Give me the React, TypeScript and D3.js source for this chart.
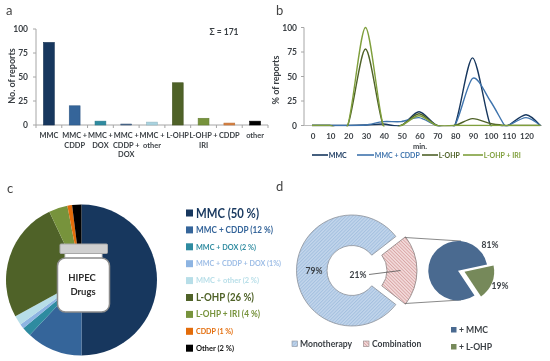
import React from "react";
import * as d3 from "d3";

const FONT = "Lato, 'Open Sans', sans-serif";
const INK = "#3a3f44";

// Panel a
const barCategories = [["MMC"], ["MMC +", "CDDP"], ["MMC +", "DOX"], ["MMC +", "CDDP +", "DOX"], ["MMC +", "other"], ["L-OHP"], ["L-OHP +", "IRI"], ["CDDP"], ["other"]];
const barValues = [86, 20, 4, 1, 3, 44, 7, 2, 4];
const barColors = ["#17375e", "#35659a", "#2e8ba0", "#4a6a90", "#a9d3e0", "#4f6228", "#77933c", "#d9813f", "#000000"];
const barTicks = [0, 25, 50, 75, 100];

// Panel b
const minutes = [0, 10, 20, 30, 40, 50, 60, 70, 80, 90, 100, 108, 110, 120, 128];
const minuteTicks = [0, 10, 20, 30, 40, 50, 60, 70, 80, 90, 100, 110, 120];
const lineMMC = [0, 0, 0, 0.5, 1.5, 0, 14, 0, 0, 69, 0.5, 0, 0, 11, 0];
const lineCDDP = [0, 0, 0, 0.5, 4, 4, 8, 0, 0, 48, 25, 0, 0, 8, 0];
const lineLOHP = [0, 0, 0, 78, 0, 0, 12, 0, 0, 7, 2, 0, 0, 0, 0];
const lineIRI = [0, 0, 0, 100, 0, 0, 10, 0, 0, 0, 0, 0, 0, 0, 0];
const lineNames = ["MMC", "MMC + CDDP", "L-OHP", "L-OHP + IRI"];
const lineColors = ["#17375e", "#3f74ad", "#4f6228", "#7f9f3c"];
const lineLegendX = [37, 82, 147, 188];
const lineLegendW = [16, 17, 16, 20];
const lineLegendTextW = [18, 45, 21, 37];

// Panel c
const pieLabels = ["MMC (50 %)", "MMC + CDDP (12 %)", "MMC + DOX (2 %)", "MMC + CDDP + DOX (1%)", "MMC + other (2 %)", "L-OHP (26 %)", "L-OHP + IRI (4 %)", "CDDP (1 %)", "Other (2 %)"];
const pieValues = [50, 12, 2, 1, 2, 26, 4, 1, 2];
const pieColors = ["#17375e", "#35659a", "#2e8ba0", "#8db4e2", "#b7dee8", "#4f6228", "#77933c", "#e36c0a", "#000000"];
const pieFontSizes = [12.5, 8.5, 7.5, 7.5, 7.5, 11, 8.5, 7.5, 7.5];
const pieLabelWidths = [63, 77, 60, 85, 63, 58, 64, 37, 38];
const pieTextColors = ["#17375e", "#35659a", "#2e8ba0", "#9dbde6", "#b7dee8", "#4f6228", "#77933c", "#e36c0a", "#111111"];

// Panel d
const donutValues = [79, 21];
const subValues = [81, 19];

const rad = (deg: number) => (deg * Math.PI) / 180;

export default function App() {
  // a
  const ax = d3.scaleBand<number>().domain(d3.range(barValues.length)).range([36, 268]).paddingInner(0.58).paddingOuter(0.29);
  const ay = d3.scaleLinear().domain([0, 100]).range([125, 29]);
  const step = ax.step();

  // b
  const bx = d3.scaleLinear().domain([0, 120]).range([312, 526]);
  const by = d3.scaleLinear().domain([0, 100]).range([125.5, 27.5]);
  const line = d3.line<number>().x((_, i) => bx(minutes[i])).y(d => by(d)).curve(d3.curveCardinal.tension(0.15));
  const series = [lineMMC, lineCDDP, lineLOHP, lineIRI];

  // c
  const pie = d3.pie<number>().sort(null)(pieValues);
  const arcC = d3.arc<d3.PieArcDatum<number>>().innerRadius(0).outerRadius(75.5);

  // d
  const half = (donutValues[1] / 100) * 180;
  const comboArc = d3.arc()({ innerRadius: 25, outerRadius: 55, startAngle: rad(90 - half), endAngle: rad(90 + half) }) as string;
  const monoArc = d3.arc()({ innerRadius: 25, outerRadius: 55.5, startAngle: rad(90 + half), endAngle: rad(450 - half) }) as string;
  const subSpan = (subValues[1] / 100) * 360;
  const subArc = d3.arc()({ innerRadius: 0, outerRadius: 29.7, startAngle: rad(112 + subSpan / 2), endAngle: rad(472 - subSpan / 2) }) as string;
  const greenArc = d3.arc()({ innerRadius: 0, outerRadius: 29.7, startAngle: rad(112 - subSpan / 2), endAngle: rad(112 + subSpan / 2) }) as string;

  return (
    <svg width={550} height={361} style={{ position: "absolute", left: 0, top: 0, background: "#fff", filter: "blur(0.35px)" }} fontFamily={FONT}>
      <defs>
        <pattern id="hb" width="2.4" height="2.4" patternUnits="userSpaceOnUse" patternTransform="rotate(45)">
          <rect width="2.4" height="2.4" fill="#c3d6ec" />
          <rect width="1" height="2.4" fill="#a4c0df" />
        </pattern>
        <pattern id="hr" width="2.4" height="2.4" patternUnits="userSpaceOnUse" patternTransform="rotate(-45)">
          <rect width="2.4" height="2.4" fill="#f3dcdc" />
          <rect width="0.9" height="2.4" fill="#d9a5a5" />
        </pattern>
        <clipPath id="plotb">
          <rect x={304} y={20} width={240} height={106.2} />
        </clipPath>
      </defs>

      {/* panel letters */}
      <g fontSize={13} fill="#444">
        <text x={6} y={15}>a</text>
        <text x={276} y={15}>b</text>
        <text x={7} y={193}>c</text>
        <text x={276} y={191}>d</text>
      </g>

      {/* a */}
      <g>
        <line x1={36} x2={36} y1={29} y2={125} stroke="#a6a6a6" />
        <line x1={36} x2={268} y1={125} y2={125} stroke="#a6a6a6" />
        {barTicks.map(t => (
          <g key={t}>
            <line x1={33} x2={36} y1={ay(t)} y2={ay(t)} stroke="#a6a6a6" />
            <text x={28} y={ay(t) + 3} textAnchor="end" fontSize={8.5} fontWeight={700} fill={INK}>{t}</text>
          </g>
        ))}
        {d3.range(barValues.length + 1).map(i => (
          <line key={i} x1={36 + i * step} x2={36 + i * step} y1={125} y2={128} stroke="#a6a6a6" />
        ))}
        {barValues.map((v, i) => (
          <rect key={i} x={ax(i)} width={ax.bandwidth()} y={ay(v)} height={ay(0) - ay(v)} fill={barColors[i]} stroke={d3.color(barColors[i])!.darker(0.4).toString()} strokeWidth={0.6} />
        ))}
        {barCategories.map((lines, i) => (
          <text key={i} textAnchor="middle" fontSize={7.4} fontWeight={700} fill={INK}>
            {lines.map((l, j) => (
              <tspan key={j} x={(ax(i) as number) + ax.bandwidth() / 2} y={138 + j * 9.5}>{l}</tspan>
            ))}
          </text>
        ))}
        <text transform="translate(14.5,76) rotate(-90)" textAnchor="middle" fontSize={9} fontWeight={700} fill={INK}>No. of reports</text>
        <text x={224} y={35} textAnchor="middle" fontSize={8.5} fontWeight={700} fill={INK}>Σ = 171</text>
      </g>

      {/* b */}
      <g>
        <line x1={304} x2={304} y1={27.5} y2={125.5} stroke="#a6a6a6" />
        <line x1={304} x2={542} y1={125.5} y2={125.5} stroke="#bdbdbd" />
        {barTicks.map(t => (
          <g key={t}>
            <line x1={301} x2={304} y1={by(t)} y2={by(t)} stroke="#a6a6a6" />
            <text x={297} y={by(t) + 3} textAnchor="end" fontSize={8.5} fontWeight={700} fill={INK}>{t}</text>
          </g>
        ))}
        {minuteTicks.map(t => (
          <text key={t} x={bx(t) + 1} y={139} textAnchor="middle" fontSize={8} fontWeight={700} fill={INK}>{t}</text>
        ))}
        <g clipPath="url(#plotb)">
          {series.map((s, i) => (
            <path key={i} d={line(s) as string} fill="none" stroke={lineColors[i]} strokeWidth={1.4} />
          ))}
        </g>
        <text x={420} y={149} textAnchor="middle" fontSize={7.5} fontWeight={700} fill={INK}>min.</text>
        <text transform="translate(279,80) rotate(-90)" textAnchor="middle" fontSize={9} fontWeight={700} fill={INK}>% of reports</text>
        {lineNames.map((n, i) => {
          const x0 = 275 + lineLegendX[i];
          return (
            <g key={n}>
              <line x1={x0} x2={x0 + lineLegendW[i]} y1={155} y2={155} stroke={lineColors[i]} strokeWidth={1.6} />
              <text x={x0 + lineLegendW[i] + 0.8} y={158} fontSize={8} fontWeight={700} fill={lineColors[i]} textLength={lineLegendTextW[i]} lengthAdjust="spacingAndGlyphs">{n}</text>
            </g>
          );
        })}
      </g>

      {/* c */}
      <g transform="translate(81.5,280)">
        {pie.map((p, i) => (
          <path key={i} d={arcC(p) as string} fill={pieColors[i]} />
        ))}
      </g>
      <g>
        <rect x={65} y={252} width={37} height={10} fill="#fff" stroke="#d0d0d0" />
        <rect x={57.5} y={258} width={52} height={54} rx={8} fill="#fff" stroke="#8c8c8c" strokeWidth={1.5} />
        <rect x={60} y={244} width={47.5} height={9.5} rx={1} fill="#cfcfcf" stroke="#a8a8a8" strokeWidth={1} />
        <text textAnchor="middle" fontSize={9.5} fontWeight={700} fill="#2b2b2b">
          <tspan x={82} y={281}>HIPEC</tspan>
          <tspan x={83} y={295}>Drugs</tspan>
        </text>
      </g>
      {pieLabels.map((l, i) => {
        const y = 213 + i * 16.9;
        return (
          <g key={l}>
            <rect x={186} y={y - 3.5} width={7} height={7} fill={pieColors[i]} />
            <text x={196} y={y + pieFontSizes[i] * 0.36} fontSize={pieFontSizes[i]} fontWeight={700} fill={pieTextColors[i]} textLength={pieLabelWidths[i]} lengthAdjust="spacingAndGlyphs">{l}</text>
          </g>
        );
      })}

      {/* d */}
      <g transform="translate(352,270.5)">
        <path d={monoArc} fill="url(#hb)" stroke="#8b9099" strokeWidth={0.8} />
      </g>
      <g transform="translate(362,270.5)">
        <path d={comboArc} fill="url(#hr)" stroke="#8b8080" strokeWidth={0.8} />
      </g>
      <line x1={405} y1={237.5} x2={461} y2={241} stroke="#6b6b6b" strokeWidth={0.8} />
      <line x1={405} y1={303.5} x2={461} y2={300} stroke="#6b6b6b" strokeWidth={0.8} />
      <path d={subArc} transform="translate(458,270.7)" fill="#4a6a90" />
      <path d={greenArc} transform="translate(464.5,271.7)" fill="#76895a" />
      <line x1={369} y1={274.5} x2={400.5} y2={270.5} stroke="#555" strokeWidth={0.8} />
      <g fontSize={8.5} fontWeight={700} fill={INK}>
        <text x={314} y={274} textAnchor="middle">79%</text>
        <text x={358} y={278} textAnchor="middle">21%</text>
        <text x={490} y={248} textAnchor="middle">81%</text>
        <text x={500} y={289} textAnchor="middle">19%</text>
      </g>
      <g fontSize={8.6} fontWeight={700} fill={INK}>
        <rect x={292} y={341} width={5.5} height={5.5} fill="url(#hb)" stroke="#8b9099" strokeWidth={0.6} />
        <text x={300} y={347}>Monotherapy</text>
        <rect x={363.5} y={341} width={5.5} height={5.5} fill="url(#hr)" stroke="#8b8080" strokeWidth={0.6} />
        <text x={372} y={347}>Combination</text>
        <rect x={451} y={327} width={5.5} height={5.5} fill="#4a6a90" />
        <text x={459} y={333}>+ MMC</text>
        <rect x={451} y={344} width={5.5} height={5.5} fill="#76895a" />
        <text x={459} y={350}>+ L-OHP</text>
      </g>
    </svg>
  );
}
